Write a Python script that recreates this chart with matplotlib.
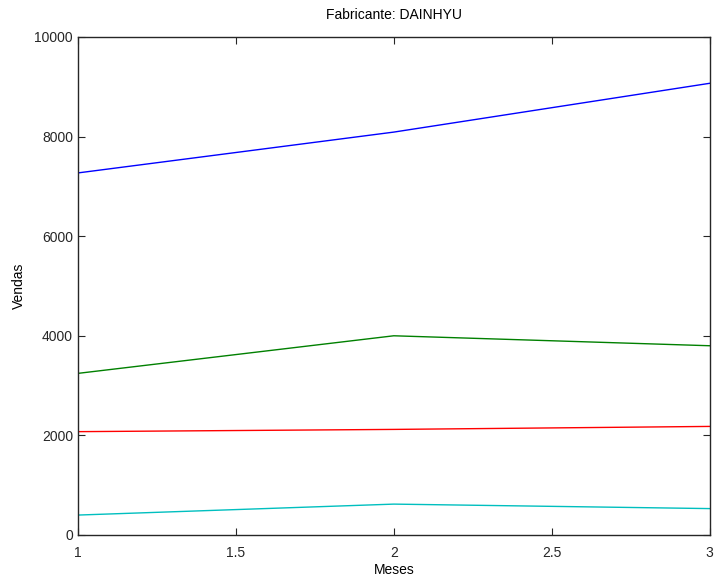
import matplotlib
matplotlib.use("Agg")
import matplotlib.pyplot as plt

plt.rcParams['font.family'] = ['Liberation Sans', 'DejaVu Sans']

meses = [1, 2, 3]
serie_azul = [7270, 8090, 9070]
serie_verde = [3245, 4000, 3800]
serie_vermelha = [2075, 2120, 2180]
serie_ciano = [400, 620, 530]

x_ticks = [1, 1.5, 2, 2.5, 3]
x_labels = ['1', '1.5', '2', '2.5', '3']
y_ticks = [0, 2000, 4000, 6000, 8000, 10000]

fig = plt.figure(figsize=(7.14, 5.76), dpi=100)
ax = fig.add_axes([0.109, 0.0712, 0.885, 0.8646])

ax.plot(meses, serie_azul, color=(0, 0, 1), lw=1)
ax.plot(meses, serie_verde, color=(0, 0.5, 0), lw=1)
ax.plot(meses, serie_vermelha, color=(1, 0, 0), lw=1)
ax.plot(meses, serie_ciano, color=(0, 0.75, 0.75), lw=1)

ax.set_xlim(1, 3)
ax.set_ylim(0, 10000)
ax.set_xticks(x_ticks)
ax.set_xticklabels(x_labels)
ax.set_yticks(y_ticks)
ax.tick_params(direction='in', top=True, right=True, length=5,
               labelsize=10, colors='#262626')
ax.tick_params(axis='x', pad=8)
for s in ax.spines.values():
    s.set_color('#262626')
    s.set_linewidth(1)

ax.set_title('Fabricante: DAINHYU', fontsize=10, pad=13)
ax.set_xlabel('Meses', fontsize=10, labelpad=2)
ax.set_ylabel('Vendas', fontsize=10, labelpad=6)

fig.savefig('out.png', dpi=100)
